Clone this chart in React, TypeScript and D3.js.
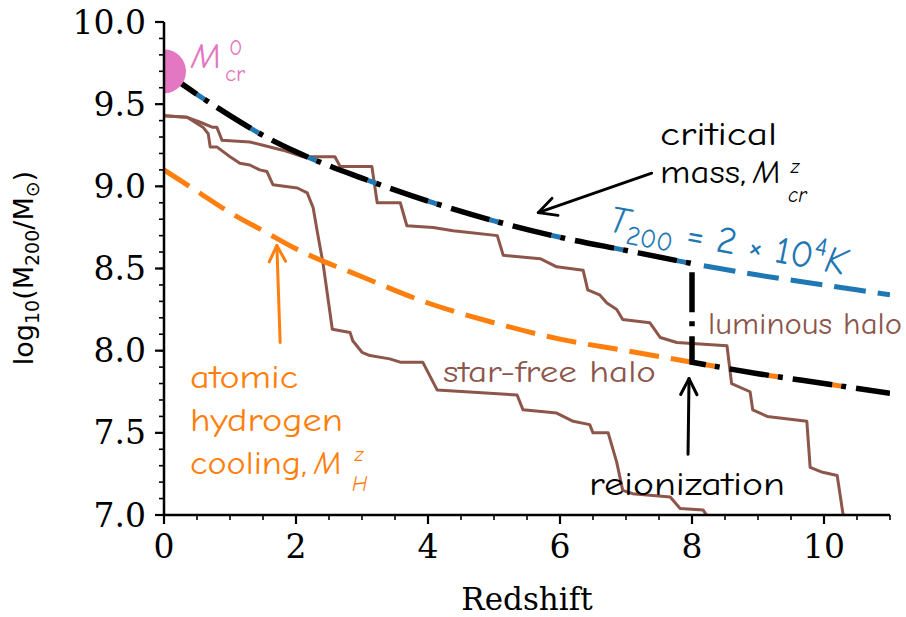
import React from 'react';
import * as d3 from 'd3';

// Canvas and plot frame
const W = 906;
const H = 617;
const PLOT = { left: 164, right: 890, top: 22, bottom: 515 };

// Halo mass with virial temperature T200 = 2e4 K, log10(M200/Msun) vs redshift
const t200Z = [0, 0.5, 1, 1.5, 2, 3, 4, 5, 6, 7, 8, 9, 10, 11];
const t200M = [9.70, 9.56, 9.43, 9.31, 9.21, 9.05, 8.91, 8.79, 8.69, 8.61, 8.53, 8.46, 8.40, 8.34];

// Atomic hydrogen cooling limit
const hZ = [0, 0.5, 1, 1.5, 2, 3, 4, 5, 6, 7, 8, 9, 10, 11];
const hM = [9.10, 8.97, 8.84, 8.73, 8.62, 8.45, 8.29, 8.17, 8.07, 8.00, 7.93, 7.86, 7.80, 7.74];

// Redshift of reionization
const reionZ = 8;

// Present-day critical mass
const mcr0 = 9.70;

// Mass accretion history of the luminous halo
const lumZ = [0, 0.35, 0.55, 0.73, 0.80, 0.88, 1.30, 1.50, 1.80, 2.11, 2.59, 2.67, 3.15, 3.23, 3.58, 3.68, 4.08, 4.38, 4.59, 5.05, 5.14, 5.70, 5.95, 6.35, 6.42, 6.60, 6.71, 6.86, 6.95, 7.36, 7.52, 7.77, 8.53, 8.60, 8.88, 8.92, 9.14, 9.74, 9.79, 9.98, 10.2, 10.29, 10.32];
const lumM = [9.43, 9.42, 9.39, 9.36, 9.36, 9.28, 9.27, 9.25, 9.22, 9.18, 9.18, 9.12, 9.12, 8.90, 8.90, 8.76, 8.75, 8.73, 8.72, 8.70, 8.58, 8.56, 8.51, 8.49, 8.37, 8.34, 8.29, 8.25, 8.19, 8.17, 8.08, 8.05, 8.03, 7.80, 7.75, 7.64, 7.60, 7.57, 7.29, 7.26, 7.24, 7.00, 6.90];

// Mass accretion history of the star-free halo
const sfZ = [0, 0.35, 0.59, 0.67, 0.70, 0.80, 1.00, 1.15, 1.30, 1.45, 1.56, 1.65, 2.02, 2.17, 2.26, 2.32, 2.41, 2.55, 2.82, 2.86, 3.00, 3.12, 3.42, 3.58, 3.92, 4.14, 5.35, 5.44, 5.95, 6.20, 6.45, 6.50, 6.73, 6.86, 6.95, 7.10, 7.67, 7.82, 8.17, 8.22, 8.25];
const sfM = [9.43, 9.42, 9.36, 9.32, 9.24, 9.24, 9.18, 9.14, 9.13, 9.10, 9.09, 9.01, 8.99, 8.96, 8.87, 8.73, 8.53, 8.13, 8.11, 8.06, 7.99, 7.97, 7.95, 7.93, 7.93, 7.76, 7.73, 7.64, 7.62, 7.57, 7.55, 7.50, 7.50, 7.32, 7.15, 7.13, 7.11, 7.04, 7.03, 7.00, 6.90];

// Axis ticks
const xMajor = [0, 2, 4, 6, 8, 10];
const xMinor = d3.range(0, 11.01, 0.5);
const yMajor = [7.0, 7.5, 8.0, 8.5, 9.0, 9.5, 10.0];
const yMinor = d3.range(7.0, 10.001, 0.1);

// Annotation arrows in data coordinates: [z, log10 M]
const critArrow = { from: [7.39, 9.08], to: [5.67, 8.84] };
const hArrow = { from: [1.76, 8.05], to: [1.71, 8.64] };
const reionArrow = { from: [7.94, 7.37], to: [7.955, 7.83] };

const COLORS = {
  black: '#000000',
  blue: '#1f77b4',
  orange: '#ff7f0e',
  brown: '#8c564b',
  pink: '#e377c2',
};

const HAND = "'Comic Sans MS', 'Comic Neue', 'DejaVu Sans', sans-serif";
const SERIF = "'DejaVu Serif', serif";
const SANS = "'DejaVu Sans', sans-serif";

const x = d3.scaleLinear().domain([0, 11]).range([PLOT.left, PLOT.right]);
const y = d3.scaleLinear().domain([7, 10]).range([PLOT.bottom, PLOT.top]);

type Pt = [number, number];
const zip = (a: number[], b: number[]): Pt[] => a.map((v, i) => [v, b[i]]);

const smooth = d3.line<Pt>().x((d) => x(d[0])).y((d) => y(d[1])).curve(d3.curveMonotoneX);
const steps = d3.line<Pt>().x((d) => x(d[0])).y((d) => y(d[1]));

function Arrow({ from, to, color, width, head }: { from: number[]; to: number[]; color: string; width: number; head: number }) {
  const x1 = x(from[0]);
  const y1 = y(from[1]);
  const x2 = x(to[0]);
  const y2 = y(to[1]);
  const a = Math.atan2(y2 - y1, x2 - x1);
  const spread = (27 * Math.PI) / 180;
  const ax = x2 - head * Math.cos(a - spread);
  const ay = y2 - head * Math.sin(a - spread);
  const bx = x2 - head * Math.cos(a + spread);
  const by = y2 - head * Math.sin(a + spread);
  return (
    <g stroke={color} strokeWidth={width} fill="none" strokeLinecap="round" strokeLinejoin="round">
      <line x1={x1} y1={y1} x2={x2} y2={y2} />
      <polyline points={`${ax},${ay} ${x2},${y2} ${bx},${by}`} />
    </g>
  );
}

export default function App() {
  const t200 = zip(t200Z, t200M);
  const hcool = zip(hZ, hM);

  // Critical mass: follows T200 before reionization, atomic cooling limit after
  const critBefore = t200.filter((d) => d[0] <= reionZ);
  const critAfter = hcool.filter((d) => d[0] >= reionZ);
  const critPath = (smooth(critBefore) || '') + (smooth(critAfter) || '').replace(/^M/, 'L');

  const hBefore = hcool.filter((d) => d[0] <= reionZ);
  const tAfter = t200.filter((d) => d[0] >= reionZ);

  const xr = x(reionZ);

  return (
    <svg
      width={W}
      height={H}
      viewBox={`0 0 ${W} ${H}`}
      style={{ position: 'absolute', left: 0, top: 0, background: '#fff' }}
    >
      <defs>
        <clipPath id="plot-clip">
          <rect x={PLOT.left} y={PLOT.top} width={PLOT.right - PLOT.left} height={PLOT.bottom - PLOT.top} />
        </clipPath>
        <clipPath id="before-reion">
          <rect x={PLOT.left} y={0} width={xr - 4 - PLOT.left} height={H} />
        </clipPath>
        <clipPath id="after-reion">
          <rect x={xr + 4} y={0} width={PLOT.right - xr - 4} height={H} />
        </clipPath>
      </defs>

      <rect x={0} y={0} width={W} height={H} fill="#fff" />

      <g clipPath="url(#plot-clip)">
        {/* halo histories */}
        <path d={steps(zip(lumZ, lumM)) || ''} fill="none" stroke={COLORS.brown} strokeWidth={3} strokeLinejoin="round" />
        <path d={steps(zip(sfZ, sfM)) || ''} fill="none" stroke={COLORS.brown} strokeWidth={3} strokeLinejoin="round" />

        {/* atomic cooling limit before reionization */}
        <path d={smooth(hBefore) || ''} fill="none" stroke={COLORS.orange} strokeWidth={5} strokeDasharray="30 12" />
        {/* T200 line after reionization */}
        <path d={smooth(tAfter) || ''} fill="none" stroke={COLORS.blue} strokeWidth={5} strokeDasharray="0 12 32 0" />

        {/* coloured pieces showing through the critical mass dashes */}
        <g clipPath="url(#before-reion)">
          <path d={critPath} fill="none" stroke={COLORS.blue} strokeWidth={5} strokeDasharray="0 40 9 15" />
        </g>
        <g clipPath="url(#after-reion)">
          <path d={critPath} fill="none" stroke={COLORS.orange} strokeWidth={5} strokeDasharray="0 40 9 15" />
        </g>
        {/* critical mass */}
        <path d={critPath} fill="none" stroke={COLORS.black} strokeWidth={5.5} strokeDasharray="40 9 5 10" />

        {/* present-day critical mass */}
        <circle cx={x(0)} cy={y(mcr0)} r={22} fill={COLORS.pink} />
      </g>

      {/* axes */}
      <g stroke="#000" fill="none">
        <line x1={PLOT.left} y1={PLOT.top} x2={PLOT.left} y2={PLOT.bottom} strokeWidth={2.5} />
        <line x1={PLOT.left} y1={PLOT.bottom} x2={PLOT.right} y2={PLOT.bottom} strokeWidth={2.5} />
        {yMinor.map((v) => (
          <line key={`ym${v}`} x1={PLOT.left - 5} x2={PLOT.left} y1={y(v)} y2={y(v)} strokeWidth={1.6} />
        ))}
        {yMajor.map((v) => (
          <line key={`yM${v}`} x1={PLOT.left - 9} x2={PLOT.left} y1={y(v)} y2={y(v)} strokeWidth={2.2} />
        ))}
        {xMinor.map((v) => (
          <line key={`xm${v}`} y1={PLOT.bottom} y2={PLOT.bottom + 5} x1={x(v)} x2={x(v)} strokeWidth={1.6} />
        ))}
        {xMajor.map((v) => (
          <line key={`xM${v}`} y1={PLOT.bottom} y2={PLOT.bottom + 9} x1={x(v)} x2={x(v)} strokeWidth={2.2} />
        ))}
      </g>
      <g fontFamily={SERIF} fontSize={33} fill="#000">
        {yMajor.map((v) => (
          <text key={`yl${v}`} x={PLOT.left - 18} y={y(v)} textAnchor="end" dominantBaseline="central">
            {v.toFixed(1)}
          </text>
        ))}
        {xMajor.map((v) => (
          <text key={`xl${v}`} x={x(v)} y={558} textAnchor="middle">
            {v}
          </text>
        ))}
        <text x={(PLOT.left + PLOT.right) / 2} y={610} textAnchor="middle" fontSize={31}>
          Redshift
        </text>
      </g>
      <text
        transform={`translate(33,268) rotate(-90)`}
        textAnchor="middle"
        fontFamily={SANS}
        fontSize={27}
        fill="#000"
      >
        log<tspan dy={6} fontSize={19}>10</tspan>
        <tspan dy={-6}>(M</tspan>
        <tspan dy={6} fontSize={19}>200</tspan>
        <tspan dy={-6}>/M</tspan>
        <tspan dy={6} fontSize={19}>⊙</tspan>
        <tspan dy={-6}>)</tspan>
      </text>

      {/* annotations */}
      <Arrow from={critArrow.from} to={critArrow.to} color={COLORS.black} width={2.8} head={20} />
      <Arrow from={hArrow.from} to={hArrow.to} color={COLORS.orange} width={3} head={18} />
      <Arrow from={reionArrow.from} to={reionArrow.to} color={COLORS.black} width={3} head={18} />

      <g fontFamily={HAND}>
        {/* M_cr^0 */}
        <g fill={COLORS.pink}>
          <text x={191} y={68} fontSize={36} fontStyle="italic">M</text>
          <text x={229} y={55} fontSize={22}>0</text>
          <text x={225} y={81} fontSize={23}>cr</text>
        </g>

        {/* critical mass label */}
        <g fill={COLORS.black}>
          <text x={660} y={145} fontSize={33} textLength={117} lengthAdjust="spacingAndGlyphs">critical</text>
          <text x={660} y={183} fontSize={33} textLength={86} lengthAdjust="spacingAndGlyphs">mass,</text>
          <text x={753} y={183} fontSize={33} fontStyle="italic">M</text>
          <text x={791} y={173} fontSize={20} fontStyle="italic">z</text>
          <text x={788} y={202} fontSize={21} fontStyle="italic">cr</text>
        </g>

        {/* T200 label */}
        <text
          transform="translate(607,231) rotate(10.5)"
          fill={COLORS.blue}
          fontSize={38}
        >
          <tspan fontStyle="italic">T</tspan>
          <tspan dy={9} fontSize={27}>200</tspan>
          <tspan dy={-9}> = 2 × 10</tspan>
          <tspan dy={-15} fontSize={26}>4</tspan>
          <tspan dy={15} fontStyle="italic">K</tspan>
        </text>

        <text x={708} y={334} fontSize={30} fill={COLORS.brown} textLength={194} lengthAdjust="spacingAndGlyphs">
          luminous halo
        </text>
        <text x={443} y={382} fontSize={30} fill={COLORS.brown} textLength={213} lengthAdjust="spacingAndGlyphs">
          star-free halo
        </text>
        <text x={589} y={495} fontSize={33} fill={COLORS.black} textLength={196} lengthAdjust="spacingAndGlyphs">
          reionization
        </text>

        {/* atomic hydrogen cooling label */}
        <g fill={COLORS.orange}>
          <text x={190} y={388} fontSize={33} textLength={108} lengthAdjust="spacingAndGlyphs">atomic</text>
          <text x={190} y={431} fontSize={33} textLength={153} lengthAdjust="spacingAndGlyphs">hydrogen</text>
          <text x={190} y={474} fontSize={33} textLength={117} lengthAdjust="spacingAndGlyphs">cooling,</text>
          <text x={314} y={474} fontSize={33} fontStyle="italic">M</text>
          <text x={355} y={461} fontSize={20} fontStyle="italic">z</text>
          <text x={352} y={491} fontSize={21} fontStyle="italic">H</text>
        </g>
      </g>
    </svg>
  );
}
